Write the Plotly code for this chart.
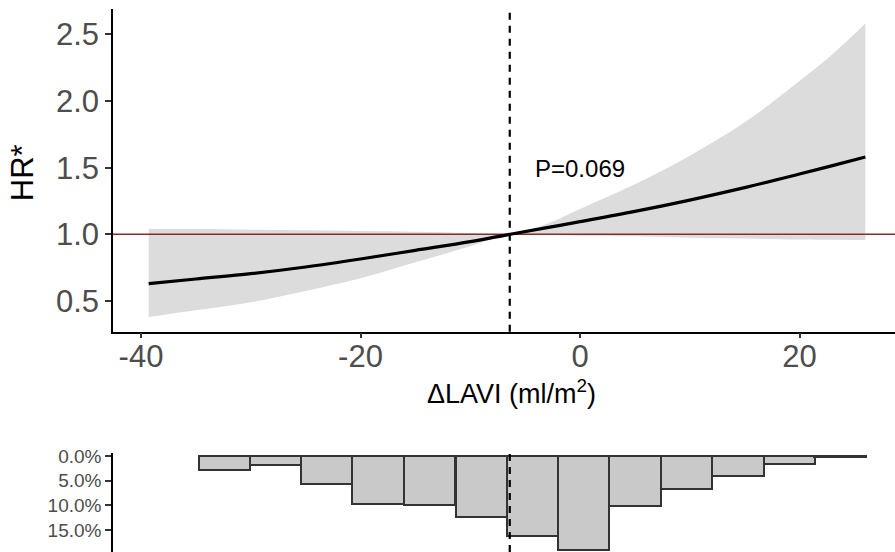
import plotly.graph_objects as go

# ---- data ----
lavi_x = [-39.3, -35, -30, -25, -20, -15, -10, -6.4, -3, 0, 5, 10, 15, 20, 23, 26]
hr = [0.63, 0.665, 0.705, 0.755, 0.815, 0.88, 0.945, 1.0, 1.05, 1.095, 1.172, 1.257, 1.35, 1.452, 1.515, 1.58]
hr_upper = [1.04, 1.04, 1.035, 1.03, 1.025, 1.02, 1.01, 1.0, 1.08, 1.19, 1.375, 1.59, 1.84, 2.15, 2.35, 2.58]
hr_lower = [0.38, 0.43, 0.49, 0.575, 0.67, 0.79, 0.91, 1.0, 0.995, 0.99, 0.985, 0.975, 0.968, 0.962, 0.96, 0.958]
ref_x = -6.4
p_label = "P=0.069"
p_pos = (0, 1.49)

hist_centers = [-32.4, -27.7, -23.1, -18.4, -13.7, -9.0, -4.3, 0.3, 5.0, 9.7, 14.4, 19.1, 23.7]
hist_pct = [2.9, 1.9, 5.7, 9.8, 10.0, 12.3, 16.2, 18.9, 10.1, 6.6, 4.1, 1.7, 0.3]
hist_width = 4.68

x_ticks = [-40, -20, 0, 20]
x_ticktext = ["-40", "-20", "0", "20"]
y_ticks = [0.5, 1.0, 1.5, 2.0, 2.5]
y_ticktext = ["0.5", "1.0", "1.5", "2.0", "2.5"]
h_ticks = [0, 5, 10, 15]
h_ticktext = ["0.0%", "5.0%", "10.0%", "15.0%"]

FONT = "Liberation Sans, Arial, sans-serif"
XR = [-42.55, 28.7]

fig = go.Figure()

# confidence band
fig.add_trace(go.Scatter(x=lavi_x, y=hr_upper, mode="lines", line=dict(width=0, shape="spline", color="#dcdcdc"),
                         hoverinfo="skip", showlegend=False, xaxis="x", yaxis="y"))
fig.add_trace(go.Scatter(x=lavi_x, y=hr_lower, mode="lines", line=dict(width=0, shape="spline", color="#dcdcdc"),
                         fill="tonexty", fillcolor="#dcdcdc", hoverinfo="skip", showlegend=False, xaxis="x", yaxis="y"))
# reference line HR=1
fig.add_trace(go.Scatter(x=XR, y=[1, 1], mode="lines", line=dict(color="#8b2a2a", width=1.5),
                         showlegend=False, hoverinfo="skip", xaxis="x", yaxis="y"))
# HR curve
fig.add_trace(go.Scatter(x=lavi_x, y=hr, mode="lines", line=dict(color="black", width=3.2, shape="spline"),
                         showlegend=False, xaxis="x", yaxis="y"))

# histogram
fig.add_trace(go.Bar(x=hist_centers, y=hist_pct, width=hist_width, marker=dict(color="#c9c9c9",
                     line=dict(color="#333333", width=2)), showlegend=False, xaxis="x2", yaxis="y2"))

# dashed vertical lines
for xr, yr in (("x", "y domain"), ("x2", "y2 domain")):
    fig.add_shape(type="line", xref=xr, yref=yr, x0=ref_x, x1=ref_x, y0=0, y1=1,
                  line=dict(color="black", width=2.2, dash="7px,6px"), layer="above")

tick_font = dict(family=FONT, size=31, color="#4d4d4d")

fig.update_layout(
    width=895, height=552,
    margin=dict(l=113, r=0, t=0, b=0, autoexpand=False),
    paper_bgcolor="white", plot_bgcolor="white",
    bargap=0,
    xaxis=dict(domain=[0, 1], range=XR, anchor="y", showline=True, linecolor="black", linewidth=1.5,
               ticks="outside", ticklen=5, tickwidth=1.5, tickcolor="#333333", tickvals=x_ticks,
               ticktext=x_ticktext, tickfont=tick_font, showgrid=False, zeroline=False, automargin=False,
               ticklabelstandoff=-9),
    yaxis=dict(domain=[0.3991, 0.9832], range=[0.27, 2.6875], anchor="x", showline=True, linecolor="black",
               linewidth=1.5, ticks="outside", ticklen=6, tickwidth=1.5, tickcolor="#333333",
               tickvals=y_ticks, ticktext=y_ticktext, tickfont=tick_font, showgrid=False, zeroline=False,
               automargin=False),
    xaxis2=dict(domain=[0, 1], range=XR, anchor="y2", visible=False, automargin=False),
    yaxis2=dict(domain=[0, 0.1793], range=[19.4, -0.6], anchor="x2", showline=True, linecolor="black",
                linewidth=1.5, ticks="outside", ticklen=6, tickwidth=1.5, tickcolor="#333333",
                tickvals=h_ticks, ticktext=h_ticktext, tickfont=dict(family=FONT, size=19, color="#4d4d4d"),
                showgrid=False, zeroline=False, automargin=False),
    annotations=[
        dict(text=p_label, x=p_pos[0], y=p_pos[1], xref="x", yref="y", showarrow=False,
             xanchor="center", yanchor="middle", font=dict(family=FONT, size=24, color="black")),
        dict(text="HR*", x=-0.1164, y=0.688, xref="paper", yref="paper", showarrow=False, textangle=-90,
             xanchor="center", yanchor="middle", font=dict(family=FONT, size=31, color="black")),
        dict(text="\u0394LAVI (ml/m<sup>2</sup>)", x=0.509, y=0.2899, xref="paper", yref="paper",
             showarrow=False, xanchor="center", yanchor="middle", font=dict(family=FONT, size=27, color="black")),
    ],
)

fig.write_html("out.html", config={"displayModeBar": False},
               post_script="document.body.style.margin='0';")
